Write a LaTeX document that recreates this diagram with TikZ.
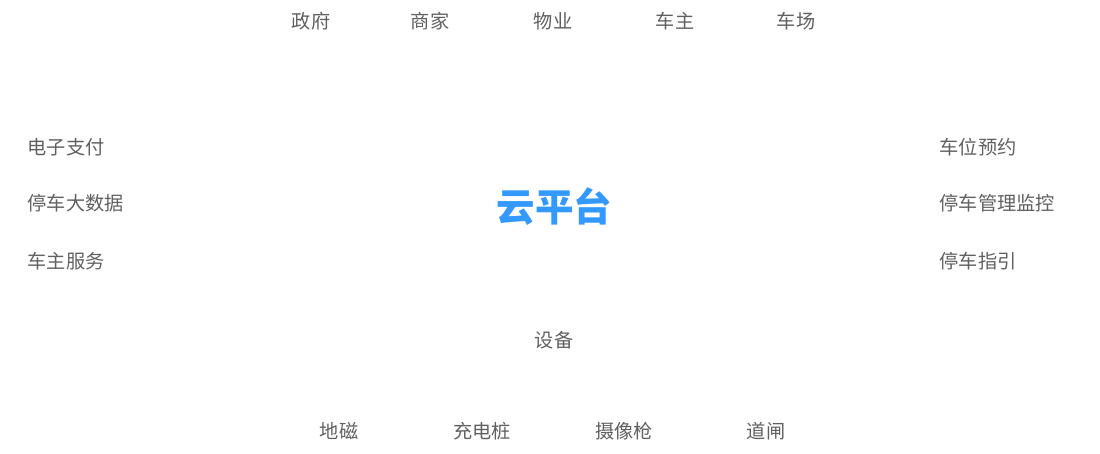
\documentclass[tikz,border=0pt]{standalone}
\usepackage{fontspec}
\setmainfont{Noto Sans CJK SC}
\definecolor{labelgray}{HTML}{606060}
\definecolor{cloudblue}{HTML}{3399FF}
\begin{document}
\begin{tikzpicture}[x=1pt,y=-1pt,
  lbl/.style={inner sep=0pt, text=labelgray, font=\fontsize{19.2}{21}\selectfont},
  lblw/.style={lbl, anchor=west},
  core/.style={inner sep=0pt, text=cloudblue, font=\fontsize{38.5}{41}\selectfont\bfseries}]
\useasboundingbox (0,0) rectangle (1100,453);
% top row
\node[lbl] (zf) at (311,21) {政府};
\node[lbl] (sj) at (430,21) {商家};
\node[lbl] (wy) at (553,21) {物业};
\node[lbl] (cz) at (675,21) {车主};
\node[lbl] (cc) at (796,21) {车场};
% left column
\node[lblw] (dzzf) at (27.5,147) {电子支付};
\node[lblw] (tcdsj) at (27.5,203) {停车大数据};
\node[lblw] (czfw) at (27.5,261) {车主服务};
% right column
\node[lblw] (cwyy) at (939.5,147) {车位预约};
\node[lblw] (tcgljk) at (939.5,203) {停车管理监控};
\node[lblw] (tczy) at (939.5,261) {停车指引};
% center
\node[core] (ypt) at (554.5,207) {云平台};
\node[lbl] (sb) at (554,340) {设备};
% bottom row
\node[lbl] (dc) at (339,431) {地磁};
\node[lbl] (cdz) at (482,431) {充电桩};
\node[lbl] (sxq) at (624,431) {摄像枪};
\node[lbl] (dz) at (766,431) {道闸};
\end{tikzpicture}
\end{document}
